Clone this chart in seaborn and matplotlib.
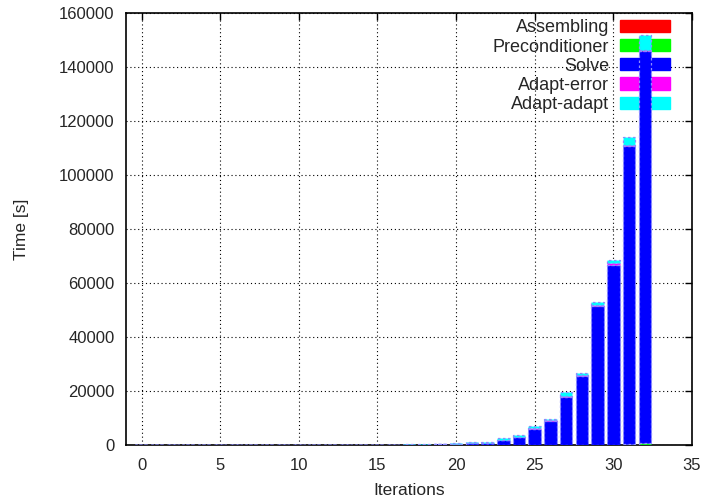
import numpy as np
import pandas as pd
import matplotlib
matplotlib.use("Agg")
import matplotlib.pyplot as plt
from matplotlib.patches import Patch
import seaborn as sns

# Wall-clock time per adaptive iteration, split by phase (seconds)
iterations = list(range(33))
assembling = [2, 2, 2, 2, 3, 3, 3, 3, 4, 4, 4, 5, 5, 6, 6, 7,
              8, 9, 10, 12, 14, 18, 20, 28, 35, 50, 60, 80, 100, 130, 150, 200, 250]
preconditioner = [1, 1, 1, 1, 1, 1, 2, 2, 2, 2, 2, 3, 3, 3, 4, 4,
                  5, 6, 7, 8, 10, 12, 14, 18, 22, 30, 40, 50, 60, 80, 100, 150, 500]
solve = [3, 4, 5, 6, 7, 9, 11, 13, 16, 19, 23, 28, 35, 45, 60, 80,
         130, 190, 260, 330, 420, 750, 850, 2000, 3000, 6000, 8900, 17900, 25500,
         51300, 66500, 110300, 145000]
adapt_error = [1, 1, 1, 1, 1, 1, 1, 2, 2, 2, 2, 3, 3, 4, 5, 6,
               8, 10, 12, 15, 20, 30, 40, 80, 100, 200, 250, 350, 400, 450, 500, 600, 400]
adapt_adapt = [5, 6, 7, 8, 9, 10, 12, 14, 16, 18, 20, 24, 28, 34, 40, 60,
               120, 150, 180, 220, 280, 350, 400, 580, 680, 1000, 650, 1150, 850,
               1100, 1150, 2900, 5600]

phases = ["Assembling", "Preconditioner", "Solve", "Adapt-error", "Adapt-adapt"]
colors = ["#ff0000", "#00ff00", "#0000ff", "#ff00ff", "#00ffff"]
series = [assembling, preconditioner, solve, adapt_error, adapt_adapt]

df = pd.concat(
    [pd.DataFrame({"Iterations": iterations, "time": vals, "phase": name})
     for name, vals in zip(phases, series)],
    ignore_index=True,
)

sns.set_style("white")
plt.rcParams["font.family"] = ["Liberation Sans", "DejaVu Sans"]
plt.rcParams["font.size"] = 12

fig = plt.figure(figsize=(7.07, 5.04), dpi=100)
ax = fig.add_axes([0.178, 0.1165, 0.8008, 0.8583])

# Later hue levels are stacked on top of earlier ones
sns.histplot(
    data=df, x="Iterations", weights="time", hue="phase",
    hue_order=phases[::-1], palette=dict(zip(phases, colors)),
    multiple="stack", discrete=True, shrink=0.8, alpha=1.0,
    edgecolor="#8c8cff", linewidth=0.9, linestyle=(0, (2, 2)),
    legend=False, ax=ax, zorder=3,
)

ax.set_xlim(-1, 35)
ax.set_ylim(0, 160000)
ax.set_xticks(np.arange(0, 36, 5))
ax.set_yticks(np.arange(0, 160001, 20000))
ax.set_xlabel("Iterations", fontsize=12.5, labelpad=7)
ax.set_ylabel("Time [s]", fontsize=12.5, labelpad=22)
ax.grid(True, color="black", linestyle=(0, (1, 2.5)), linewidth=0.8)
ax.set_axisbelow(True)
ax.tick_params(direction="in", length=5, width=1, top=True, right=True,
               labelsize=12, pad=8, color="black")
ax.tick_params(axis="x", pad=9)
for s in ax.spines.values():
    s.set_color("black")
    s.set_linewidth(1.2)

handles = [Patch(facecolor=c, edgecolor=c, label=n) for n, c in zip(phases, colors)]
leg = ax.legend(handles=handles, loc="upper right", bbox_to_anchor=(0.986, 1.018),
                frameon=False, markerfirst=False, fontsize=13,
                handlelength=2.75, handleheight=0.65, labelspacing=0.12,
                handletextpad=0.6, borderpad=0.3)
for col in leg._legend_handle_box.get_children():
    col.align = "right"
leg.set_zorder(2)

fig.savefig("out.png", dpi=100)
